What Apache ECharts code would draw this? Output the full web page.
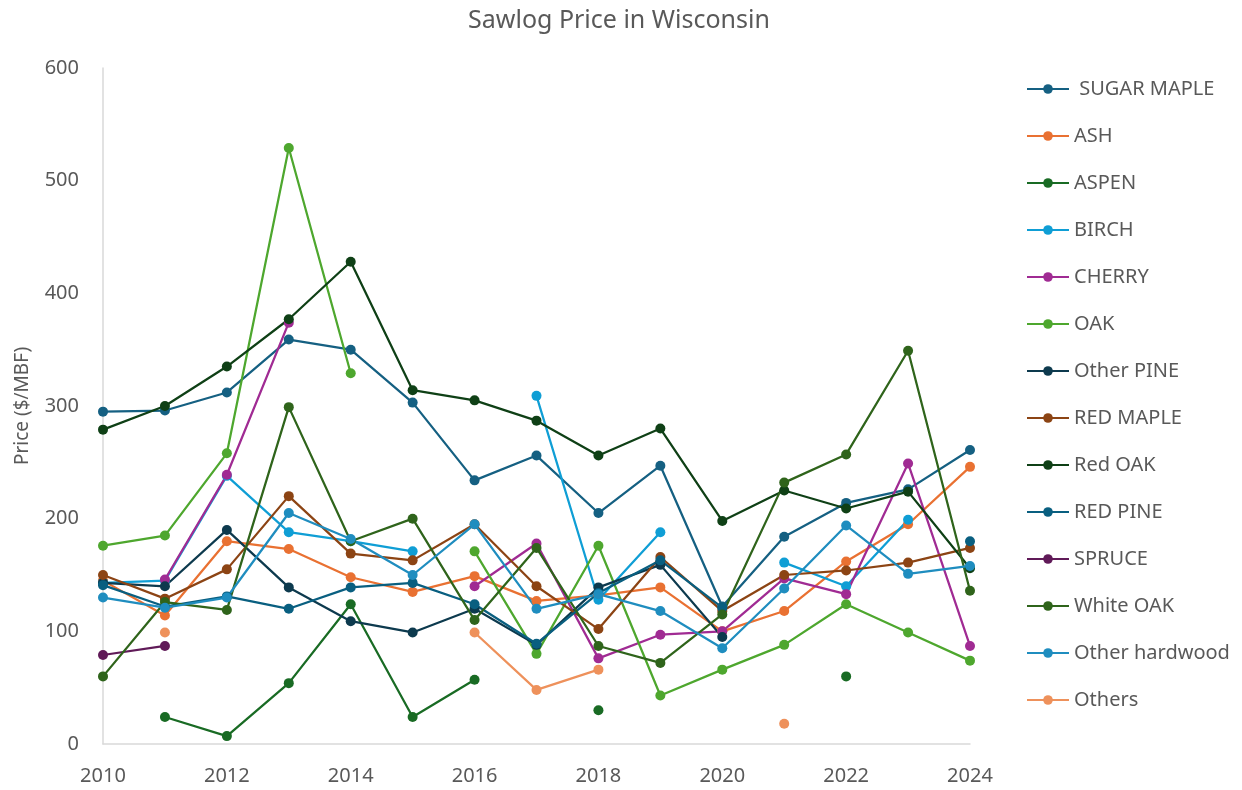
<!DOCTYPE html>
<html>
<head>
<meta charset="utf-8">
<script src="https://cdn.jsdelivr.net/npm/echarts@6/dist/echarts.min.js"></script>
<style>
html,body{margin:0;padding:0;background:#fff;}
#chart{width:1242px;height:790px;}
</style>
</head>
<body>
<div id="chart"></div>
<script>
const years = [2010,2011,2012,2013,2014,2015,2016,2017,2018,2019,2020,2021,2022,2023,2024];
const seriesNames = [' SUGAR MAPLE','ASH','ASPEN','BIRCH','CHERRY','OAK','Other PINE','RED MAPLE','Red OAK','RED PINE','SPRUCE','White OAK','Other hardwood','Others'];
const sugarMaple   = [295,296,312,359,350,303,234,256,205,247,122,184,214,226,261];
const ash          = [145,114,180,173,148,135,149,127,132,139,100,118,162,195,246];
const aspen        = [null,24,7,54,124,24,57,null,30,null,null,null,60,null,null];
const birch        = [143,145,238,188,180,171,null,309,128,188,null,161,140,199,null];
const cherry       = [null,146,239,374,null,null,140,178,76,97,100,147,133,249,87];
const oak          = [176,185,258,529,329,null,171,80,176,43,66,88,124,99,74];
const otherPine    = [143,140,190,139,109,99,120,88,139,159,95,null,null,null,null];
const redMaple     = [150,129,155,220,169,163,195,140,102,166,118,150,154,161,174];
const redOak       = [279,300,335,377,428,314,305,287,256,280,198,225,209,224,156];
const redPine      = [141,122,131,120,139,143,124,89,134,163,121,null,null,null,180];
const spruce       = [79,87,null,null,null,null,null,null,null,null,null,null,null,null,null];
const whiteOak     = [60,126,119,299,180,200,110,174,87,72,115,232,257,349,136];
const otherHardwood= [130,121,130,205,182,150,195,120,133,118,85,138,194,151,158];
const others       = [null,99,null,null,null,null,99,48,66,null,null,18,null,null,null];
const seriesValues = [sugarMaple,ash,aspen,birch,cherry,oak,otherPine,redMaple,redOak,redPine,spruce,whiteOak,otherHardwood,others];
const colors = ['#156082','#E97132','#196B24','#0F9ED5','#A02B93','#4EA72E','#0D3A4E','#8C4414','#0F4016','#095F80','#601A58','#2F641B','#1F8DBF','#EE915B'];

const FONT = '"Noto Sans", "Liberation Sans", sans-serif';
const chart = echarts.init(document.getElementById('chart'), null, {renderer:'canvas'});
const series = seriesNames.map((name, i) => ({
  name: name,
  type: 'line',
  data: years.map((y, j) => [y, seriesValues[i][j] === null ? '-' : seriesValues[i][j]]),
  symbol: 'circle',
  symbolSize: 10,
  showSymbol: true,
  connectNulls: false,
  lineStyle: {width: 2.25, color: colors[i]},
  itemStyle: {color: colors[i]},
  emphasis: {disabled: true}
}));

chart.setOption({
  animation: false,
  backgroundColor: '#ffffff',
  title: {
    text: 'Sawlog Price in Wisconsin',
    left: 614, top: 3, textAlign: 'center',
    textStyle: {fontFamily: FONT, fontSize: 25, fontWeight: 'normal', color: '#595959'}
  },
  grid: {left: 103, right: 272, top: 68, bottom: 46, containLabel: false},
  xAxis: {
    type: 'value', min: 2010, max: 2024, interval: 2,
    axisLine: {show: true, lineStyle: {color: '#D9D9D9', width: 1.5}},
    axisTick: {show: false},
    splitLine: {show: false},
    axisLabel: {formatter: v => String(v), margin: 22, fontFamily: FONT, fontSize: 20, color: '#595959'}
  },
  yAxis: {
    type: 'value', min: 0, max: 600, interval: 100,
    name: 'Price ($/MBF)', nameLocation: 'middle', nameGap: 71, nameRotate: 90,
    nameTextStyle: {fontFamily: FONT, fontSize: 19, color: '#595959'},
    axisLine: {show: true, lineStyle: {color: '#D9D9D9', width: 1.5}},
    axisTick: {show: false},
    splitLine: {show: false},
    axisLabel: {margin: 24, fontFamily: FONT, fontSize: 20, color: '#595959'}
  },
  legend: {
    orient: 'vertical', left: 1021, top: 74,
    itemWidth: 42, itemHeight: 12, itemGap: 27,
    textStyle: {fontFamily: FONT, fontSize: 20, color: '#595959', lineHeight: 19},
    data: seriesNames
  },
  series: series
});
</script>
</body>
</html>
